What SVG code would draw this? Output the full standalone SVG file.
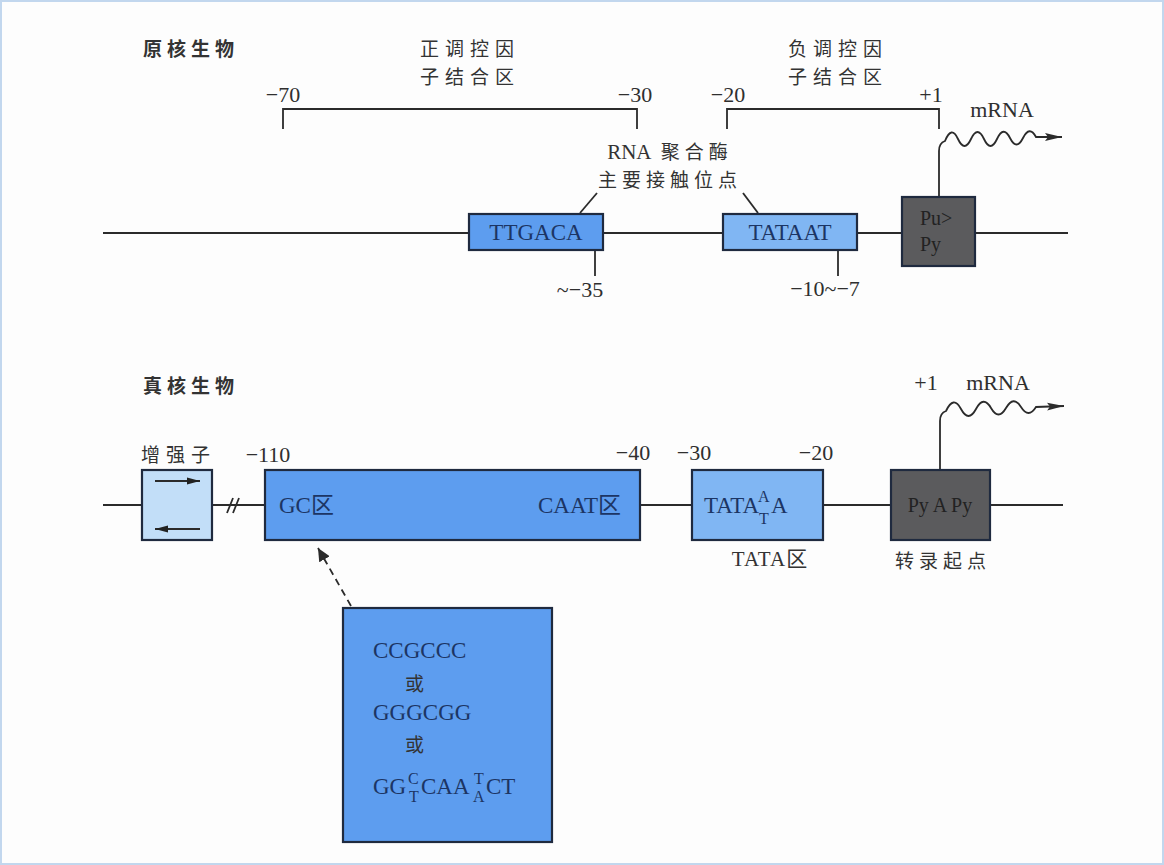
<svg xmlns="http://www.w3.org/2000/svg" width="1164" height="865" viewBox="0 0 1164 865">
<style>
.ln{stroke:#2b2b2b;stroke-width:1.8;fill:none}
.box{stroke:#1f2a3f;stroke-width:2.2}
.blue{fill:#5d9def}
.lblue{fill:#80b6f3}
.pale{fill:#c2def8}
.dark{fill:#5b5b5d}
.num{font-family:"Liberation Serif","Times New Roman",serif;font-size:22px;fill:#2f2f2f}
.cn{font-family:"Noto Sans CJK SC","Liberation Sans",sans-serif;font-size:19px;fill:#333}
.title{font-family:"Noto Sans CJK SC","Liberation Sans",sans-serif;font-size:19px;font-weight:700;fill:#333;letter-spacing:5px}
.seq{font-family:"Liberation Serif","Noto Sans CJK SC",serif;font-size:23px;fill:#1c3564}
.dk{font-family:"Liberation Serif",serif;font-size:20px;fill:#222}
.sm{font-family:"Liberation Serif",serif;font-size:16px;fill:#1c3564}
.lbl{font-family:"Liberation Serif","Noto Sans CJK SC",serif;font-size:21px;fill:#333}
</style>
<defs>
<marker id="ah" markerUnits="userSpaceOnUse" markerWidth="18" markerHeight="10" refX="17" refY="5" orient="auto">
<path d="M0,1 L17,5 L0,9 L3,5 z" fill="#2b2b2b"/>
</marker>
<marker id="ahs" markerUnits="userSpaceOnUse" markerWidth="14" markerHeight="8" refX="13" refY="4" orient="auto">
<path d="M0,0.5 L13,4 L0,7.5 z" fill="#222"/>
</marker>
<marker id="ahd" markerUnits="userSpaceOnUse" markerWidth="14" markerHeight="12" refX="13" refY="6" orient="auto">
<path d="M0,0 L13,6 L0,12 z" fill="#2b2b2b"/>
</marker>
</defs>
<rect x="1" y="1" width="1162" height="863" fill="#fdfdfd" stroke="#c2d7ee" stroke-width="2"/>

<!-- Prokaryote -->
<g id="title-pro"><text class="title" x="143" y="56">原核生物</text></g>
<g id="pos-reg"><text class="cn" x="470" y="56" text-anchor="middle" letter-spacing="6">正调控因</text><text class="cn" x="470" y="84" text-anchor="middle" letter-spacing="6">子结合区</text></g>
<g id="neg-reg"><text class="cn" x="838" y="56" text-anchor="middle" letter-spacing="6">负调控因</text><text class="cn" x="838" y="84" text-anchor="middle" letter-spacing="6">子结合区</text></g>
<g id="nums-top">
<text class="num" x="283" y="102" text-anchor="middle">−70</text>
<text class="num" x="635" y="102" text-anchor="middle">−30</text>
<text class="num" x="728" y="102" text-anchor="middle">−20</text>
<text class="num" x="931" y="102" text-anchor="middle">+1</text>
<text class="num" x="1002" y="117" text-anchor="middle">mRNA</text>
</g>
<g id="rnap-label"><text class="lbl" x="670" y="159" text-anchor="middle">RNA<tspan font-family="Noto Sans CJK SC,sans-serif" font-size="19" letter-spacing="5"> 聚合酶</tspan></text><text class="cn" x="670" y="187" text-anchor="middle" letter-spacing="5">主要接触位点</text></g>

<g id="connectors">
<path class="ln" d="M283,129 V109 H637 V129"/>
<path class="ln" d="M727,129 V109 H939 V129"/>
<path class="ln" d="M103,233 H1068"/>
<path class="ln" d="M580,213 L597,193"/>
<path class="ln" d="M758,213 L743,193"/>
<path class="ln" d="M595,250 V276"/>
<path class="ln" d="M838,250 V276"/>
<path class="ln" d="M939,197 V151 Q939,143 945,141 Q951.5,125 958,139 T971,139 T984,139 T997,139 T1010,138 T1023,138 T1036,137 L1062,137" marker-end="url(#ah)"/>
<path class="ln" d="M103,505 H1063"/>
<path class="ln" d="M227,513 L233,498 M233,513 L239,498"/>
<path class="ln" d="M940,470 V421 Q940,413 946,411 Q953.5,395 961,409 T976,409 T991,408 T1006,408 T1021,407 T1036,407 L1064,406" marker-end="url(#ah)"/>
<path class="ln" d="M351,606 L318,548" stroke-dasharray="7,5" marker-end="url(#ahd)"/>
</g>

<g id="ttgaca"><rect class="box blue" x="469" y="214" width="134" height="36"/><text class="seq" x="536" y="240" text-anchor="middle">TTGACA</text></g>
<g id="n35"><text class="num" x="580" y="297" text-anchor="middle">~−35</text></g>
<g id="tataat"><rect class="box lblue" x="723" y="214" width="134" height="36"/><text class="seq" x="790" y="240" text-anchor="middle">TATAAT</text></g>
<g id="n10"><text class="num" x="825" y="296" text-anchor="middle">−10~−7</text></g>
<g id="pupy"><rect class="box dark" x="902" y="197" width="73" height="69"/><text class="dk" x="920" y="225">Pu&gt;</text><text class="dk" x="920" y="251">Py</text></g>

<!-- Eukaryote -->
<g id="title-eu"><text class="title" x="143" y="393">真核生物</text></g>
<g id="enh-label"><text class="cn" x="141" y="462" letter-spacing="6">增强子</text></g>
<g id="nums-bot">
<text class="num" x="268" y="462" text-anchor="middle">−110</text>
<text class="num" x="633" y="460" text-anchor="middle">−40</text>
<text class="num" x="694" y="460" text-anchor="middle">−30</text>
<text class="num" x="816" y="460" text-anchor="middle">−20</text>
<text class="num" x="926" y="390" text-anchor="middle">+1</text>
<text class="num" x="998" y="390" text-anchor="middle">mRNA</text>
</g>
<g id="enhancer"><rect class="box pale" x="142" y="470" width="70" height="70"/>
<line class="ln" x1="155" y1="481" x2="200" y2="481" stroke="#222" stroke-width="1.6" marker-end="url(#ahs)"/>
<line class="ln" x1="200" y1="529" x2="155" y2="529" stroke="#222" stroke-width="1.6" marker-end="url(#ahs)"/>
</g>
<g id="gc-caat"><rect class="box blue" x="265" y="470" width="375" height="70"/><text class="seq" x="279" y="513">GC区</text><text class="seq" x="621" y="513" text-anchor="end">CAAT区</text></g>
<g id="tata"><rect class="box lblue" x="692" y="470" width="131" height="70"/>
<text class="seq" x="704" y="513" font-size="20">TATA</text><text class="sm" x="758" y="502">A</text><text class="sm" x="759" y="524">T</text><text class="seq" x="771" y="513" font-size="20">A</text></g>
<g id="tata-label"><text class="lbl" x="770" y="566" text-anchor="middle" letter-spacing="1">TATA区</text></g>
<g id="pyapy"><rect class="box dark" x="891" y="470" width="99" height="70"/><text class="dk" x="940" y="512" text-anchor="middle">Py A Py</text></g>
<g id="tss-label"><text class="cn" x="943" y="568" text-anchor="middle" letter-spacing="5">转录起点</text></g>

<g id="gc-detail"><rect class="box blue" x="343" y="608" width="209" height="234"/>
<text class="seq" x="373" y="658" font-size="24">CCGCCC</text>
<text class="cn" x="405" y="691" fill="#1c3564">或</text>
<text class="seq" x="373" y="720" font-size="24">GGGCGG</text>
<text class="cn" x="405" y="752" fill="#1c3564">或</text>
<text class="seq" x="373" y="794" font-size="24">GG</text>
<text class="sm" x="408" y="784">C</text><text class="sm" x="409" y="802">T</text>
<text class="seq" x="421" y="794" font-size="24">CAA</text>
<text class="sm" x="474" y="784">T</text><text class="sm" x="473" y="802">A</text>
<text class="seq" x="486" y="794" font-size="24">CT</text>
</g>
</svg>
